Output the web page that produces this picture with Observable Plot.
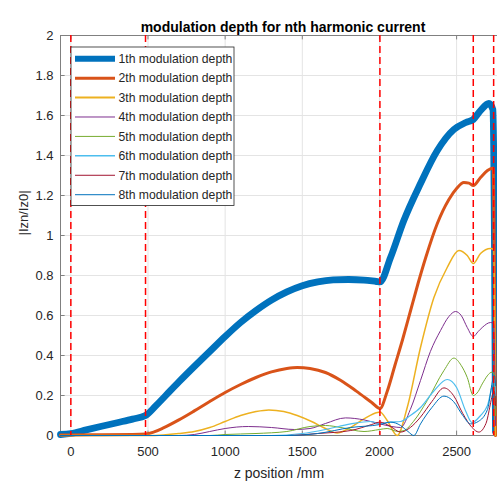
<!DOCTYPE html>
<html><head><meta charset="utf-8">
<script src="https://cdn.jsdelivr.net/npm/d3@7"></script>
<script src="https://cdn.jsdelivr.net/npm/@observablehq/plot@0.6"></script>
<style>body{margin:0;background:#fff;} svg{display:block;}</style>
</head><body><div id="chart"></div>
<script>
const seriesNames = ["1th modulation depth","2th modulation depth","3th modulation depth","4th modulation depth","5th modulation depth","6th modulation depth","7th modulation depth","8th modulation depth"];
const seriesColors = ["#0072BD","#D95319","#EDB120","#7E2F8E","#77AC30","#4DBEEE","#A2142F","#0072BD"];
const xTicks = [0,500,1000,1500,2000,2500];
const yTicks = [0,0.2,0.4,0.6,0.8,1,1.2,1.4,1.6,1.8,2];
const boundaries = [0,484,2003,2608,2740];

const s1z = [-67,0,100,200,300,400,484,550,615,700,800,900,1000,1100,1200,1300,1400,1500,1600,1700,1800,1900,1980,2003,2072,2158,2266,2375,2482,2560,2608,2655,2709,2735,2745,2752];
const s1v = [0.005,0.01,0.028,0.046,0.064,0.082,0.10,0.148,0.2,0.268,0.345,0.42,0.495,0.565,0.625,0.677,0.718,0.749,0.768,0.778,0.78,0.777,0.77,0.768,0.89,1.075,1.26,1.425,1.53,1.565,1.58,1.625,1.66,1.63,1.0,0.02];

const s2z = [-67,0,200,400,484,540,600,700,800,900,1000,1100,1200,1300,1400,1467,1550,1650,1750,1850,1950,2003,2050,2100,2150,2200,2250,2300,2375,2450,2500,2547,2580,2608,2655,2700,2737,2745,2752];
const s2v = [0.003,0.003,0.004,0.005,0.007,0.018,0.038,0.078,0.123,0.17,0.215,0.255,0.29,0.318,0.335,0.34,0.335,0.315,0.275,0.222,0.165,0.135,0.22,0.35,0.48,0.62,0.76,0.89,1.06,1.18,1.235,1.265,1.262,1.25,1.29,1.325,1.338,0.8,0.0];

const s3z = [-67,500,600,700,800,900,1000,1100,1200,1283,1380,1467,1560,1650,1726,1800,1900,1986,2003,2050,2115,2180,2266,2353,2439,2515,2569,2608,2655,2720,2740,2748,2752];
const s3v = [0,0,0.003,0.01,0.02,0.04,0.07,0.1,0.12,0.128,0.12,0.1,0.07,0.035,0.012,0.035,0.083,0.115,0.117,0.075,0.0,0.14,0.44,0.69,0.84,0.925,0.9,0.86,0.91,0.935,0.93,0.5,0.0];

const s4z = [-67,700,800,900,1000,1150,1300,1450,1550,1650,1780,1900,2003,2080,2137,2200,2266,2330,2396,2450,2493,2530,2569,2608,2640,2666,2720,2740,2748,2752];
const s4v = [0,0,0.005,0.02,0.035,0.045,0.04,0.03,0.035,0.06,0.088,0.078,0.058,0.045,0.04,0.13,0.275,0.42,0.525,0.595,0.62,0.6,0.54,0.495,0.52,0.54,0.565,0.56,0.3,0.05];

const s5z = [-67,900,1000,1200,1400,1550,1650,1750,1900,2000,2050,2120,2160,2220,2310,2418,2482,2530,2569,2608,2640,2666,2731,2745,2752];
const s5v = [0,0,0.005,0.01,0.02,0.045,0.05,0.04,0.02,0.03,0.035,0.02,0.025,0.07,0.175,0.325,0.387,0.35,0.29,0.2,0.22,0.258,0.317,0.3,0.1];

const s6z = [-67,1300,1500,1650,1814,1942,2003,2072,2137,2200,2266,2350,2439,2500,2560,2600,2655,2700,2745,2752];
const s6v = [0,0,0.01,0.03,0.058,0.07,0.06,0.067,0.07,0.1,0.14,0.22,0.28,0.24,0.12,0.065,0.1,0.15,0.28,0.2];

const s7z = [-67,1400,1600,1814,1950,2003,2072,2137,2200,2266,2340,2418,2480,2540,2600,2644,2690,2745,2752];
const s7v = [0,0,0.01,0.025,0.055,0.067,0.045,0.017,0.04,0.092,0.17,0.238,0.2,0.11,0.04,0.017,0.06,0.22,0.15];

const s8z = [-67,1400,1600,1814,2003,2072,2137,2185,2223,2266,2340,2418,2480,2540,2590,2640,2700,2745,2752];
const s8v = [0,0,0.01,0.04,0.055,0.067,0.05,0.02,0.0,0.058,0.14,0.197,0.17,0.1,0.058,0.07,0.13,0.3,0.25];

const seriesZ = [s1z,s2z,s3z,s4z,s5z,s6z,s7z,s8z];
const seriesV = [s1v,s2v,s3v,s4v,s5v,s6v,s7v,s8v];
const lineWidths = [6.8,3,1.5,1,1,1.2,1,1];

const seriesData = seriesZ.map((zs,i)=>zs.map((z,j)=>({z, v: seriesV[i][j]})));
const xMin = -67, xMax = 2765;
const axisColor = "#808080";
const gridColor = "#e4e4e4";
const fontFamily = "'Liberation Sans', Arial, sans-serif";

const lineMarks = seriesData.map((d,i)=>Plot.line(d,{x:"z",y:"v",stroke:seriesColors[i],strokeWidth:lineWidths[i],curve:"monotone-x"}));

const svg = Plot.plot({
  width:497, height:482,
  marginLeft:60, marginRight:0, marginTop:35, marginBottom:47,
  style:{fontFamily:fontFamily, fontSize:"13px", color:"#262626", background:"#fff"},
  x:{domain:[xMin,xMax], ticks:xTicks, tickSize:0, tickPadding:11, tickFormat:d=>String(d), label:null},
  y:{domain:[0,2], ticks:yTicks, tickSize:0, tickPadding:7, tickFormat:d=>String(d), label:null},
  marks:[
    Plot.ruleX(xTicks,{stroke:gridColor}),
    Plot.ruleY(yTicks.slice(1),{stroke:gridColor}),
    Plot.ruleY([0,2],{stroke:axisColor}),
    Plot.ruleX([xMin],{stroke:axisColor}),
    Plot.ruleX(xTicks,{y1:0,y2:0.022,stroke:axisColor}),
    Plot.ruleX(xTicks,{y1:2,y2:1.978,stroke:axisColor}),
    Plot.ruleY(yTicks,{x1:xMin,x2:xMin+30,stroke:axisColor}),
    ...lineMarks,
    Plot.ruleX(boundaries,{stroke:"#ff0000",strokeWidth:1.5,strokeDasharray:"7,4"}),
    Plot.text(["modulation depth for nth harmonic current"],{text:d=>d,frameAnchor:"top",dy:-13,dx:4,fontSize:14,fontWeight:"bold",fill:"#000"}),
    Plot.text(["z position /mm"],{text:d=>d,frameAnchor:"bottom",dy:42,fontSize:14,fill:"#262626"}),
    Plot.text(["|Izn/Iz0|"],{text:d=>d,frameAnchor:"left",dx:-37,rotate:-90,fontSize:13,fill:"#262626"})
  ]
});

// legend
const lg = d3.select(svg).append("g").attr("font-family",fontFamily).attr("font-size",12.2).attr("text-anchor","start");
lg.append("rect").attr("x",71).attr("y",47).attr("width",163).attr("height",158.5).attr("fill","#fff").attr("stroke","#262626").attr("stroke-width",0.8);
const legendWidths = [6,3,2,1,1,1.5,1,1];
seriesNames.forEach((name,i)=>{
  const cy = 58.7 + i*19.43;
  lg.append("line").attr("x1",75).attr("x2",115).attr("y1",cy).attr("y2",cy).attr("stroke",seriesColors[i]).attr("stroke-width",legendWidths[i]);
  lg.append("text").attr("x",118.5).attr("y",cy).attr("dy","0.35em").attr("text-anchor","start").attr("fill","#262626").text(name);
});
document.getElementById("chart").appendChild(svg);
</script>
</body></html>
